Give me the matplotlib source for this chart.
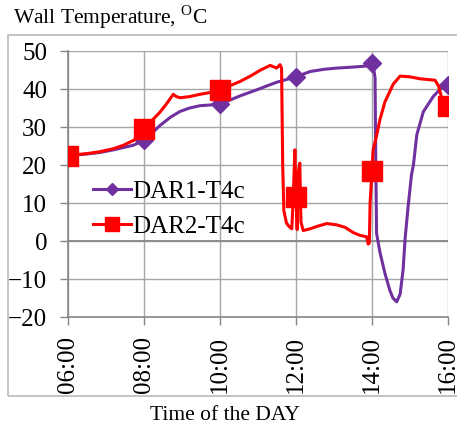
import numpy as np
import matplotlib
matplotlib.use("Agg")
import matplotlib.pyplot as plt
from matplotlib.patches import Rectangle

plt.rcParams["font.family"] = ["Liberation Serif", "DejaVu Serif"]
plt.rcParams["mathtext.fontset"] = "custom"
plt.rcParams["mathtext.rm"] = "Liberation Serif"

# --------------------------------------------------------------------------- #
# data (time in decimal hours, temperature in °C)
# --------------------------------------------------------------------------- #
dar1_t = [6.0, 6.5, 6.84, 7.2, 7.72, 8.0, 8.2, 8.42, 8.7, 8.95, 9.2, 9.47, 9.75,
          10.0, 10.53, 11.0, 11.23, 11.5, 11.75, 12.0, 12.37, 12.75, 13.07, 13.4,
          13.68, 13.9, 14.0, 14.05, 14.08, 14.1, 14.12, 14.21, 14.34, 14.47,
          14.55, 14.65, 14.74, 14.82, 14.87, 14.95, 15.04, 15.09, 15.18, 15.35,
          15.61, 15.8, 16.0]
dar1_v = [22.5, 22.9, 23.3, 24.0, 25.2, 26.5, 28.3, 30.4, 32.6, 34.1, 35.0, 35.6,
          35.8, 36.0, 38.2, 39.9, 40.8, 41.8, 42.5, 43.2, 44.6, 45.2, 45.5, 45.7,
          45.9, 46.1, 46.8, 45.0, 43.0, 20.0, 2.0, -3.0, -8.5, -13.0, -15.0,
          -16.0, -14.0, -7.4, 0.5, 9.0, 17.5, 20.0, 28.0, 34.0, 38.0, 40.0, 41.0]

dar2_t = [6.0, 6.5, 6.84, 7.2, 7.46, 7.75, 8.0, 8.2, 8.42, 8.6, 8.77, 8.85, 8.95,
          9.2, 9.47, 9.75, 10.0, 10.25, 10.53, 10.8, 11.05, 11.32, 11.49, 11.58,
          11.62, 11.65, 11.68, 11.75, 11.82, 11.89, 11.93, 11.97, 12.0, 12.03,
          12.06, 12.1, 12.13, 12.19, 12.37, 12.54, 12.81, 13.07, 13.29, 13.51,
          13.68, 13.86, 13.9, 13.93, 13.95, 14.0, 14.03, 14.12, 14.21, 14.34,
          14.56, 14.74, 15.0, 15.26, 15.66, 15.75, 15.83, 16.0]
dar2_v = [22.5, 23.0, 23.5, 24.3, 25.2, 26.6, 29.5, 31.6, 33.9, 36.2, 38.6, 38.0,
          37.7, 38.0, 38.6, 39.1, 39.7, 40.8, 42.0, 43.4, 44.9, 46.2, 45.5, 46.4,
          45.5, 20.0, 8.0, 4.7, 3.8, 3.2, 12.0, 24.0, 11.6, 3.0, 18.0, 20.5, 5.0,
          2.75, 3.2, 3.8, 4.6, 4.25, 3.6, 2.2, 1.5, 1.1, -0.8, -0.5, 10.0, 18.5,
          24.0, 27.7, 32.0, 36.6, 41.3, 43.4, 43.2, 42.7, 42.3, 40.8, 37.8, 35.6]

marker_hours = [6, 8, 10, 12, 14, 16]
tick_labels = ["06:00", "08:00", "10:00", "12:00", "14:00", "16:00"]
y_ticks = [-20, -10, 0, 10, 20, 30, 40, 50]

PURPLE = "#7030A0"
RED = "#FF0000"
GRID = "#A6A6A6"

W, H = 457, 429
fig = plt.figure(figsize=(W / 100, H / 100), dpi=100)

# chart area border (right edge runs off the picture)
fig.patches.append(Rectangle((8 / W, 1 - 396 / H), 1.2, (396 - 35) / H,
                             transform=fig.transFigure, fill=False,
                             ec="#BFBFBF", lw=1.3, clip_on=False))

ax = fig.add_axes([68 / W, 1 - 317 / H, 380 / W, 266 / H])

idx1 = [i for i, t in enumerate(dar1_t) if t in marker_hours]
idx2 = [i for i, t in enumerate(dar2_t) if t in marker_hours]

ax.plot(dar1_t, dar1_v, color=PURPLE, lw=2.2, marker="D", ms=9,
        markevery=idx1, label="DAR1-T4c", zorder=3)
ax.plot(dar2_t, dar2_v, color=RED, lw=2.2, marker="s", ms=14,
        markevery=idx2, label="DAR2-T4c", zorder=4)

ax.set_xlim(6, 16)
ax.set_ylim(-20, 50)
ax.set_xticks(marker_hours)
ax.set_xticklabels(tick_labels, rotation=90, fontsize=18)
ax.set_yticks(y_ticks)
ax.tick_params(axis="y", labelsize=18, length=6, width=1, color="#868686", pad=9)
ax.tick_params(axis="x", length=6, width=1, color="#868686", pad=8)

ax.grid(True, color=GRID, lw=1)
ax.axhline(0, color="#8C8C8C", lw=1.4, zorder=1)
ax.set_axisbelow(True)
for s in ("top", "right"):
    ax.spines[s].set_visible(False)
for s in ("left", "bottom"):
    ax.spines[s].set_color("#868686")
    ax.spines[s].set_linewidth(1.2)

ax.legend(loc="center left", bbox_to_anchor=(0.066, 0.406), frameon=False,
          fontsize=18, handlelength=1.5, handletextpad=0.08, borderpad=0,
          borderaxespad=0, labelspacing=0.5, markerscale=0.7)

fig.text(13 / W, 1 - 24 / H, r"Wall Temperature, $^{\mathrm{O}}$C",
         fontsize=15.5, va="baseline", ha="left")
fig.text(225 / W, 1 - 415 / H, "Time of the DAY", fontsize=15.5,
         va="center", ha="center")

fig.savefig("out.png", dpi=100)
